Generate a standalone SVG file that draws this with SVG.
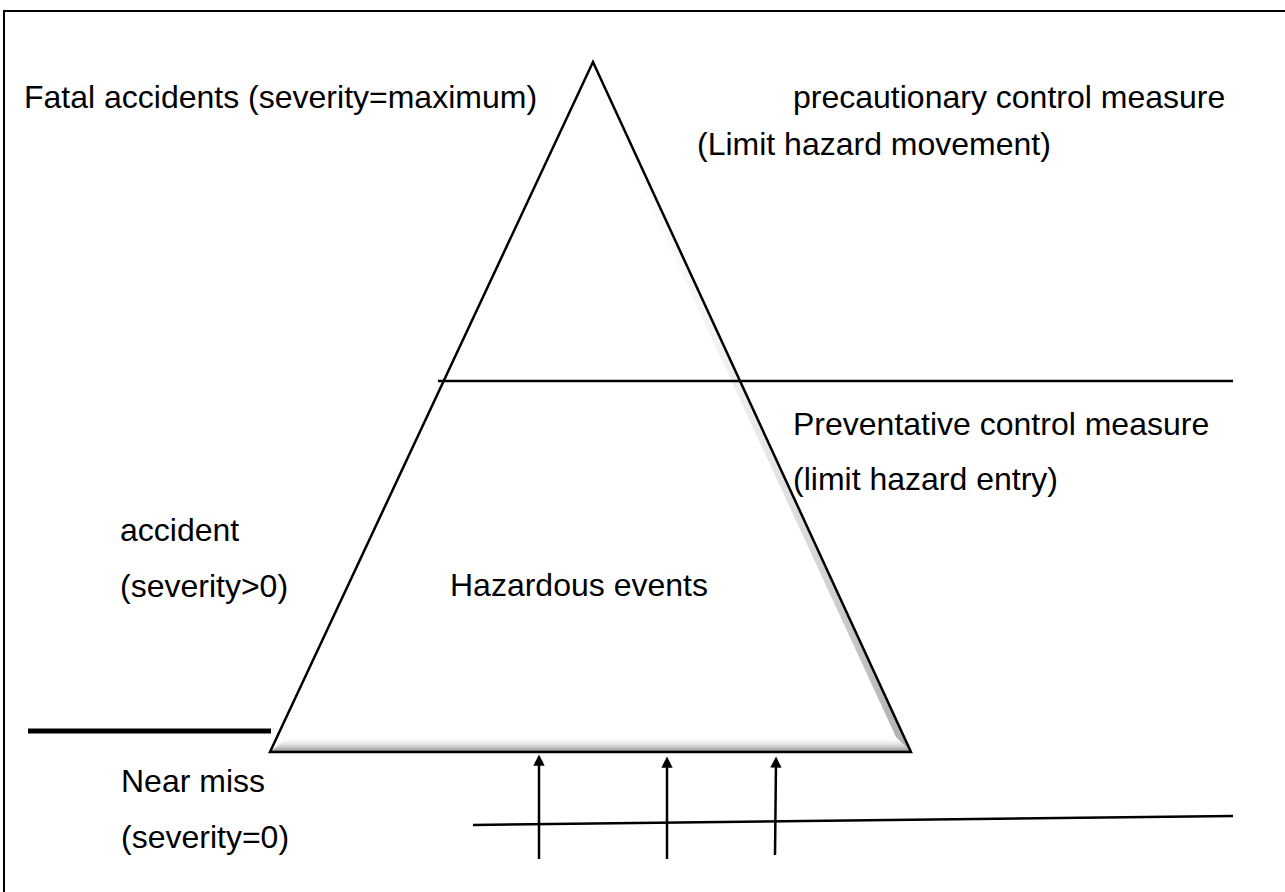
<svg xmlns="http://www.w3.org/2000/svg" width="1285" height="892" viewBox="0 0 1285 892">
  <style>
    .lbl { font-family: "Liberation Sans", Arial, sans-serif; font-size: 32px; fill: #000; }
    .ln { stroke: #000; stroke-width: 2.5; fill: none; }
  </style>
  <defs>
    <marker id="head" viewBox="0 0 10 10" refX="5" refY="5" markerWidth="4.5" markerHeight="4.5" orient="auto-start-reverse">
      <path d="M0,0 L10,5 L0,10 z" fill="#000"/>
    </marker>
    <linearGradient id="baseShade" x1="0" y1="0" x2="0" y2="1">
      <stop offset="0" stop-color="#fff" stop-opacity="0"/>
      <stop offset="1" stop-color="#777" stop-opacity="0.9"/>
    </linearGradient>
    <linearGradient id="sideShade" x1="0" y1="0" x2="1" y2="0">
      <stop offset="0" stop-color="#fff" stop-opacity="0"/>
      <stop offset="1" stop-color="#888" stop-opacity="0.7"/>
    </linearGradient>
  </defs>

  <!-- outer frame -->
  <rect x="4" y="11" width="1300" height="900" fill="#fff" stroke="#000" stroke-width="2"/>

  <!-- pyramid -->
  <g id="pyramid">
    <polygon points="593,62 911,752 270,752" fill="#fff"/>
    <!-- bevel along base -->
    <polygon points="288,737 896,737 911,752 270,752" fill="url(#baseShade)"/>
    <!-- bevel along right edge -->
    <polygon points="593,62 911,752 896,737 590,75" fill="url(#sideShade)"/>
    <polygon points="593,62 911,752 270,752" fill="none" stroke="#000" stroke-width="2.5" stroke-linejoin="miter"/>
  </g>

  <!-- boundary lines and arrows -->
  <g id="connectors">
    <line class="ln" x1="438" y1="381" x2="1233" y2="381"/>
    <line x1="28" y1="731" x2="271" y2="731" stroke="#000" stroke-width="5"/>
    <line class="ln" x1="473" y1="825" x2="1233" y2="816"/>
    <line class="ln" x1="539" y1="859" x2="539" y2="760" marker-end="url(#head)"/>
    <line class="ln" x1="667" y1="859" x2="667" y2="762" marker-end="url(#head)"/>
    <line class="ln" x1="775" y1="855" x2="776" y2="762" marker-end="url(#head)"/>
  </g>

  <g id="label-fatal"><text class="lbl" x="24" y="108">Fatal accidents (severity=maximum)</text></g>
  <g id="label-precautionary">
    <text class="lbl" x="793" y="108">precautionary control measure</text>
    <text class="lbl" x="697" y="155">(Limit hazard movement)</text>
  </g>
  <g id="label-preventative">
    <text class="lbl" x="793" y="435">Preventative control measure</text>
    <text class="lbl" x="793" y="490">(limit hazard entry)</text>
  </g>
  <g id="label-accident">
    <text class="lbl" x="120" y="541">accident</text>
    <text class="lbl" x="120" y="597">(severity&gt;0)</text>
  </g>
  <g id="label-hazardous"><text class="lbl" x="450" y="596">Hazardous events</text></g>
  <g id="label-nearmiss">
    <text class="lbl" x="121" y="792">Near miss</text>
    <text class="lbl" x="121" y="848">(severity=0)</text>
  </g>
</svg>
